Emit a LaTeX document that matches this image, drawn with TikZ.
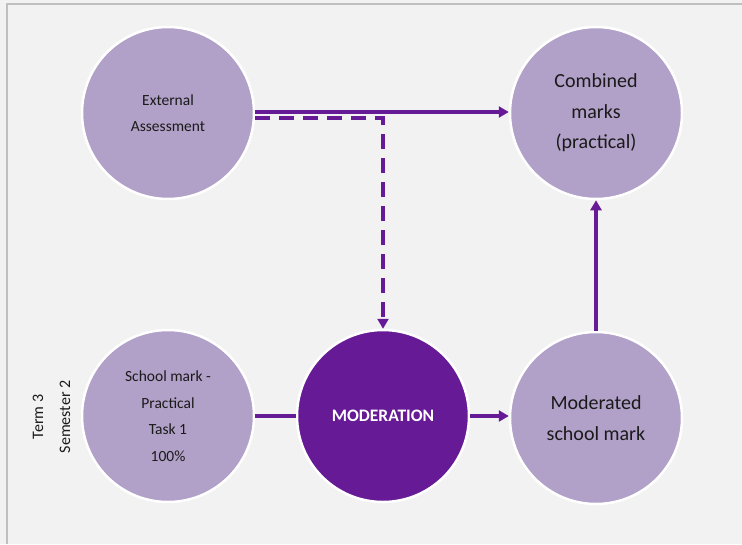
\documentclass[tikz,border=0pt]{standalone}
\usepackage{fontspec}
\setmainfont{Carlito}
\usetikzlibrary{arrows.meta}
\definecolor{bg}{HTML}{F2F2F2}
\definecolor{frame}{HTML}{BFBFBF}
\definecolor{lilac}{HTML}{B1A0C7}
\definecolor{deep}{HTML}{671A95}
\definecolor{ink}{HTML}{1A1A1A}
\tikzset{
  bubble/.style={circle, minimum size=172pt, inner sep=0pt, fill=lilac, draw=white, line width=2.5pt, align=center, text=ink},
  bubblek/.style={bubble, fill=deep, text=white, font=\fontsize{17.5}{20}\selectfont\bfseries},
  smalltxt/.style={font=\fontsize{15.5}{26.5}\selectfont},
  bigtxt/.style={font=\fontsize{20}{30.5}\selectfont},
  link/.style={draw=deep, line width=3.2pt},
  arr/.style={link, -{Triangle[length=10pt,width=11pt]}},
  dsh/.style={link, dash pattern=on 15pt off 9pt}
}
\begin{document}
\begin{tikzpicture}[x=1pt,y=-1pt]
\useasboundingbox (0,0) rectangle (742,544);
\fill[bg] (0,0) rectangle (742,544);
\draw[frame, line width=1.2pt] (7,544) -- (7,4) -- (742,4);
\node[bubble, smalltxt] (ext) at (168,113) {External\\Assessment};
\node[bubble, bigtxt] (comb) at (596,113) {Combined\\marks\\(practical)};
\node[bubble, smalltxt] (school) at (168,416) {School mark -\\Practical\\Task 1\\100\%};
\node[bubblek] (mod) at (383,416) {MODERATION};
\node[bubble, bigtxt] (moded) at (596,418) {Moderated\\school mark};
\node[rotate=90, font=\fontsize{16}{18}\selectfont, text=ink] (term) at (38,417) {Term 3};
\node[rotate=90, font=\fontsize{16}{18}\selectfont, text=ink] (sem) at (65,417) {Semester 2};
\draw[arr] ([yshift=1pt]ext.east) -- ([yshift=1pt]comb.west);
\draw[dsh, -{Triangle[length=10pt,width=11pt]}] ([yshift=-5pt]ext.east) -| (mod.north);
\draw[link] (school.east) -- (mod.west);
\draw[arr] (mod.east) -- (moded.west |- mod.east);
\draw[arr] (moded.north) -- (comb.south);
\end{tikzpicture}
\end{document}
